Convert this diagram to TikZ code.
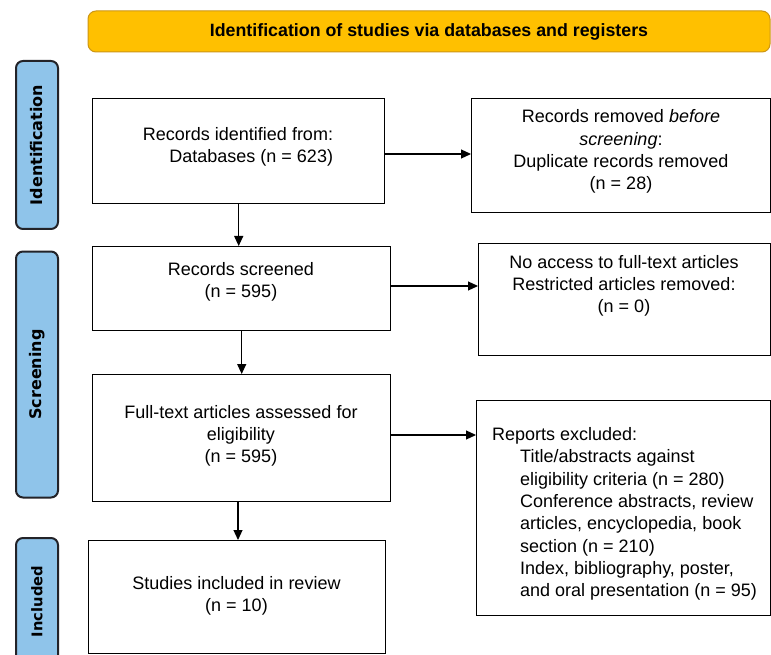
\documentclass[tikz,border=0pt]{standalone}
\usepackage{fontspec}
\setmainfont{Liberation Sans}
\newfontfamily\sidefont{DejaVu Sans}
\usetikzlibrary{arrows.meta}
\definecolor{banfill}{RGB}{255,192,0}
\definecolor{banline}{RGB}{205,150,20}
\definecolor{sidefill}{RGB}{143,196,234}
\definecolor{sideline}{RGB}{35,35,40}
\tikzset{
  flowbox/.style={draw=black, line width=1.4pt, fill=white, anchor=north west, inner sep=0pt},
  boxtext/.style={font=\fontsize{18}{22.3}\selectfont, align=center, inner sep=0pt},
  sidebox/.style={draw=sideline, line width=2pt, fill=sidefill, rounded corners=7pt, rotate=90,
    inner sep=0pt, font=\sidefont\bfseries\fontsize{16}{18}\selectfont},
  arr/.style={line width=1.2pt, -{Triangle[length=10pt,width=9pt]}},
}
\begin{document}
\begin{tikzpicture}[x=1pt,y=-1pt]
\path[use as bounding box, clip] (0,0) rectangle (771,655);
\fill[white] (0,0) rectangle (771,655);
% banner
\node[draw=banline, line width=1pt, fill=banfill, rounded corners=8pt,
  minimum width=682pt, minimum height=41pt, inner sep=0pt,
  font=\bfseries\fontsize{17.8}{20}\selectfont] (ban) at (429,31.5)
  {Identification of studies via databases and registers};
% side labels
\node[sidebox, minimum width=168pt, minimum height=42pt] (sid) at (37,145) {Identification};
\node[sidebox, minimum width=246pt, minimum height=42pt] (sscr) at (37,374.5) {Screening};
\node[sidebox, minimum width=127pt, minimum height=42pt,
  font=\sidefont\bfseries\fontsize{14.7}{17}\selectfont] (sinc) at (37,601.5) {Included};
% boxes
\node[flowbox, minimum width=292pt, minimum height=105pt] (b1) at (92,98) {};
\node[flowbox, minimum width=299pt, minimum height=114pt] (b2) at (471,98) {};
\node[flowbox, minimum width=298pt, minimum height=84pt] (b3) at (92,246) {};
\node[flowbox, minimum width=292pt, minimum height=112pt] (b4) at (478,243) {};
\node[flowbox, minimum width=298pt, minimum height=127pt] (b5) at (92,374) {};
\node[flowbox, minimum width=294pt, minimum height=215pt] (b6) at (476,400) {};
\node[flowbox, minimum width=297pt, minimum height=113pt] (b7) at (88,540) {};
% texts
\node[boxtext, align=right] (t1) at (238,147) {Records identified from:\\Databases (n = 623)};
\node[boxtext] (t2) at (621,151.5) {Records removed \textit{before}\\\textit{screening}:\\Duplicate records removed\\(n = 28)};
\node[boxtext] (t3) at (241,282) {Records screened\\(n = 595)};
\node[boxtext] (t4) at (624,286) {No access to full-text articles\\Restricted articles removed:\\(n = 0)};
\node[boxtext] (t5) at (241,436) {Full-text articles assessed for\\eligibility\\(n = 595)};
\node[boxtext, align=left, anchor=west] (t6) at (492,514) {Reports excluded:\\
\hspace*{28pt}Title/abstracts against\\
\hspace*{28pt}eligibility criteria (n = 280)\\
\hspace*{28pt}Conference abstracts, review\\
\hspace*{28pt}articles, encyclopedia, book\\
\hspace*{28pt}section (n = 210)\\
\hspace*{28pt}Index, bibliography, poster,\\
\hspace*{28pt}and oral presentation (n = 95)};
\node[boxtext] (t7) at (236.5,596) {Studies included in review\\(n = 10)};
% arrows
\draw[arr] (b1.east |- 0,154) -- (b2.west |- 0,154);
\draw[arr] (b1.south) -- (b1.south |- b3.north);
\draw[arr] (b3.east |- 0,286) -- (b4.west |- 0,286);
\draw[arr] (b3.south) -- (b5.north);
\draw[arr] (b5.east |- 0,435) -- (b6.west |- 0,435);
\draw[arr] (b5.south -| 238,0) -- (b7.north -| 238,0);
\end{tikzpicture}
\end{document}
